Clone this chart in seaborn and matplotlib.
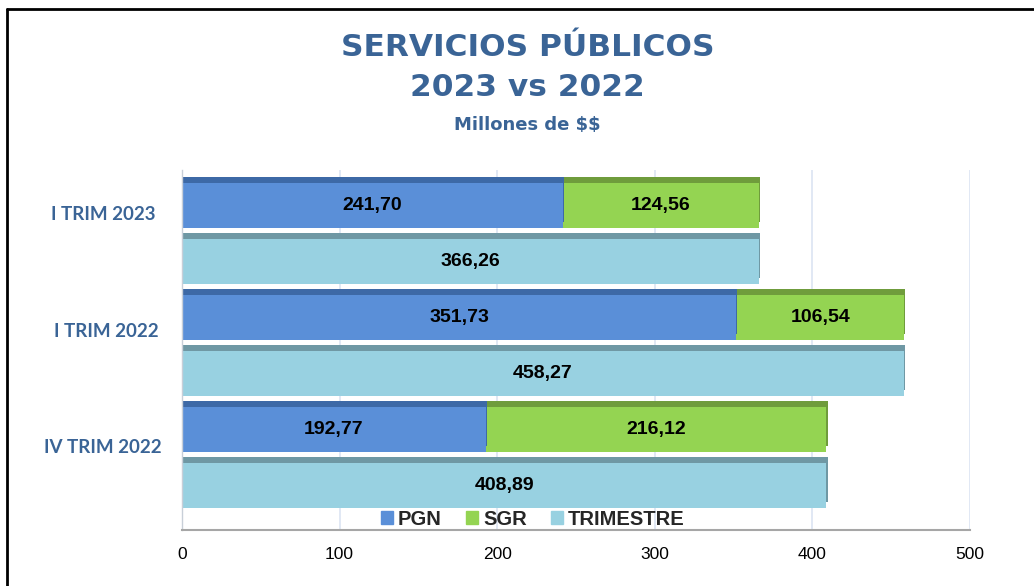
import matplotlib
matplotlib.use("Agg")
import matplotlib.pyplot as plt
import matplotlib.patheffects as pe
from matplotlib.patches import Patch
from matplotlib.lines import Line2D
import seaborn as sns
import pandas as pd

categories = ["I TRIM 2023", "I TRIM 2022", "IV TRIM 2022"]
pgn = [241.70, 351.73, 192.77]
sgr = [124.56, 106.54, 216.12]
trimestre = [366.26, 458.27, 408.89]
x_ticks = [0, 100, 200, 300, 400, 500]

C_PGN, C_PGN_TOP = "#5a8fd8", "#3d69a6"
C_SGR, C_SGR_TOP = "#94d452", "#6f9c3c"
C_TRI, C_TRI_TOP = "#98d1e1", "#6f98a4"
TITLE_C = "#3a6496"

sns.set_theme(style="white")
plt.rcParams["font.family"] = ["Liberation Sans", "DejaVu Sans"]
plt.rcParams["text.parse_math"] = False

fig = plt.figure(figsize=(10.34, 5.86), dpi=100)
ax = fig.add_axes([182/1034, 56/586, 788/1034, 360/586])

kinds = ["stack", "trim"]
df_tot = pd.DataFrame({
    "cat": categories * 2,
    "kind": ["stack"] * 3 + ["trim"] * 3,
    "value": [p + s for p, s in zip(pgn, sgr)] + trimestre,
})
df_pgn = pd.DataFrame({"cat": categories, "kind": ["stack"] * 3, "value": pgn})

sns.barplot(data=df_tot, y="cat", x="value", hue="kind", hue_order=kinds,
            order=categories, palette={"stack": C_SGR, "trim": C_TRI},
            width=1.0, gap=0.2, dodge=True, legend=False, ax=ax, saturation=1)
sns.barplot(data=df_pgn, y="cat", x="value", hue="kind", hue_order=kinds,
            order=categories, palette={"stack": C_PGN, "trim": C_TRI},
            width=1.0, gap=0.2, dodge=True, legend=False, ax=ax, saturation=1)

def close(a, b):
    a = matplotlib.colors.to_rgba(a); b = matplotlib.colors.to_rgba(b)
    return all(abs(x - y) < 0.02 for x, y in zip(a[:3], b[:3]))

# pseudo-3D top faces
for p in ax.patches:
    fc = p.get_facecolor()
    if close(fc, C_SGR):
        top = C_SGR_TOP
    elif close(fc, C_PGN):
        top = C_PGN_TOP
    else:
        top = C_TRI_TOP
    p.set_edgecolor("none")
    p.set_path_effects([pe.SimplePatchShadow(offset=(0.8, 4), shadow_rgbFace=top, alpha=1.0),
                        pe.Normal()])

ax.set_xlim(0, 500)
ax.set_ylim(2.648, -0.566)
ax.set_xticks(x_ticks)
ax.set_xticklabels([str(t) for t in x_ticks], fontsize=12.5, color="black")
ax.tick_params(axis="x", length=0, pad=12)
ax.set_yticks([])
ax.set_xlabel("")
ax.set_ylabel("")
for s in ["top", "right"]:
    ax.spines[s].set_visible(False)
ax.spines["left"].set_color("#c8cfd8")
ax.spines["left"].set_linewidth(1.0)
ax.spines["bottom"].set_color("#a6a6a6")
ax.spines["bottom"].set_linewidth(1.5)
ax.grid(axis="x", color="#dbe4f2", linewidth=1.2)
ax.set_axisbelow(True)

# value labels
for i, c in enumerate(categories):
    yc = i - 0.25
    ax.text(pgn[i] / 2, yc, f"{pgn[i]:.2f}".replace(".", ","), ha="center", va="center",
            fontsize=14, fontweight="bold", color="black")
    ax.text(pgn[i] + sgr[i] / 2, yc, f"{sgr[i]:.2f}".replace(".", ","), ha="center", va="center",
            fontsize=14, fontweight="bold", color="black")
    ax.text(trimestre[i] / 2, i + 0.25, f"{trimestre[i]:.2f}".replace(".", ","), ha="center",
            va="center", fontsize=14, fontweight="bold", color="black")
    ax.text(-0.034 + 0.004 * i, i - 0.165 + 0.037 * i, c, transform=ax.get_yaxis_transform(),
            ha="right", va="center", fontsize=13.5, fontweight="bold", color=TITLE_C,
            family=["Lato", "DejaVu Sans"])

# legend
handles = [Patch(color=C_PGN, label="PGN"), Patch(color=C_SGR, label="SGR"),
           Patch(color=C_TRI, label="TRIMESTRE")]
ax.legend(handles=handles, loc="center", bbox_to_anchor=(0.445, 0.03), ncol=3, frameon=False,
          prop={"weight": "bold", "size": 14.5}, handlelength=0.6, handleheight=0.6,
          handletextpad=0.25, columnspacing=1.2, borderaxespad=0)

# titles
fig.text(0.51, 1 - 47/586, "SERVICIOS PÚBLICOS", ha="center", va="center", fontsize=22.5,
         fontweight="bold", color=TITLE_C, family=["DejaVu Sans"])
fig.text(0.51, 1 - 88/586, "2023 vs 2022", ha="center", va="center", fontsize=22.5,
         fontweight="bold", color=TITLE_C, family=["DejaVu Sans"])
fig.text(0.51, 1 - 125/586, "Millones de $$", ha="center", va="center", fontsize=13,
         fontweight="bold", color=TITLE_C, family=["DejaVu Sans"])

# frame (top and left edges visible)
fig.add_artist(Line2D([7/1034, 1.0], [1 - 9/586] * 2, transform=fig.transFigure,
                      color="black", linewidth=2))
fig.add_artist(Line2D([7/1034] * 2, [0, 1 - 9/586], transform=fig.transFigure,
                      color="black", linewidth=2))

fig.savefig("out.png", dpi=100)
